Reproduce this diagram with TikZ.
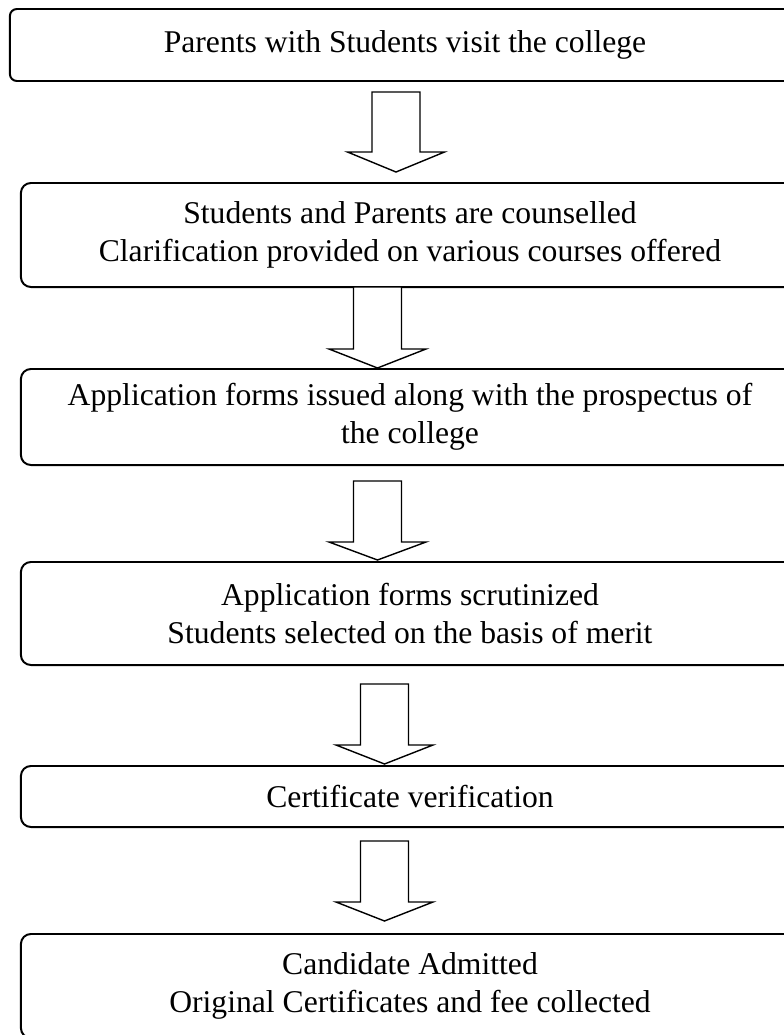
\documentclass[tikz,border=0pt]{standalone}
\usepackage{fontspec}
\setmainfont{Liberation Serif}
\definecolor{corBorda}{RGB}{0, 0, 0}
\definecolor{corSeta}{RGB}{0, 0, 0}

\tikzset{
  caixa/.style={draw=corBorda, line width=1.4pt, rounded corners=0.25cm,
                minimum width=19.45cm, align=center, inner sep=0pt,
                font=\fontsize{22.5}{27}\selectfont},
  seta/.style={draw=corSeta, fill=white, line width=1pt, line join=miter}
}

\begin{document}
\begin{tikzpicture}[x=0.025cm, y=-0.025cm]

  %% ================================================================
  %%  AREA DA FIGURA (as caixas passam da borda direita)
  %% ================================================================
  \clip (0,0) rectangle (784,1035);

  %% ================================================================
  %%  CAIXAS
  %% ================================================================
  \node[caixa, rounded corners=0.175cm, minimum width=19.75cm, minimum height=1.8cm]
        (visita) at (405, 45) {Parents with Students visit the college};

  \node[caixa, minimum height=2.6cm]
        (orienta) at (410, 235)
        {Students and Parents are counselled\\Clarification provided on various courses offered};

  \node[caixa, minimum height=2.4cm]
        (formulario) at (410, 417)
        {Application forms issued along with the prospectus of\\the college};

  \node[caixa, minimum height=2.575cm]
        (selecao) at (410, 613.5)
        {Application forms scrutinized\\Students selected on the basis of merit};

  \node[caixa, minimum height=1.525cm]
        (certificado) at (410, 796.5) {Certificate verification};

  \node[caixa, minimum height=2.6cm]
        (admitido) at (410, 986)
        {Candidate Admitted\\Original Certificates and fee collected};

  %% ================================================================
  %%  SETAS (vazadas, apontando para baixo)
  %% ================================================================
  \draw[seta] (372, 92) -- (420, 92) -- (420, 152) -- (444.5, 152) --
              (396, 172) -- (347.5, 152) -- (372, 152) -- cycle;

  \draw[seta] (353.5, 287) -- (401.5, 287) -- (401.5, 349) -- (426, 349) --
              (377.5, 368) -- (329, 349) -- (353.5, 349) -- cycle;

  \draw[seta] (353.5, 481) -- (401.5, 481) -- (401.5, 542) -- (426, 542) --
              (377.5, 560) -- (329, 542) -- (353.5, 542) -- cycle;

  \draw[seta] (360.5, 684) -- (408.5, 684) -- (408.5, 745) -- (433, 745) --
              (384.5, 764) -- (336, 745) -- (360.5, 745) -- cycle;

  \draw[seta] (360.5, 841) -- (408.5, 841) -- (408.5, 902) -- (433, 902) --
              (384.5, 921) -- (336, 902) -- (360.5, 902) -- cycle;

\end{tikzpicture}
\end{document}
